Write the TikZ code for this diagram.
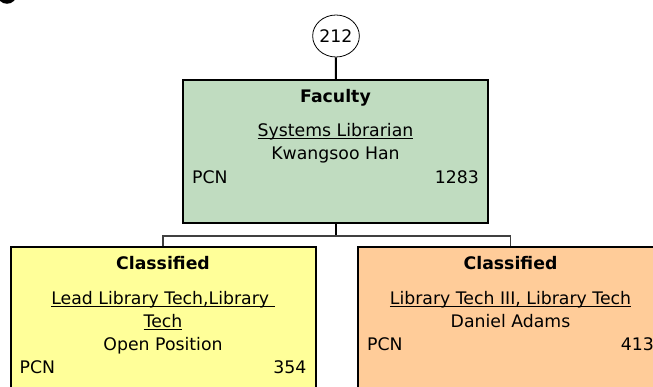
\documentclass[tikz,border=0pt]{standalone}
\usepackage{fontspec}
\setmainfont{DejaVu Sans}
\usepackage{xcolor}
\usetikzlibrary{positioning,shapes.geometric}
\definecolor{facgreen}{RGB}{192,220,192}
\definecolor{clyellow}{RGB}{255,255,153}
\definecolor{clorange}{RGB}{255,204,153}
\newcommand{\posttitle}[1]{\setbox0\hbox{#1}\rlap{\rule[-3pt]{\wd0}{1.1pt}}\box0}

\begin{document}
\begin{tikzpicture}[x=1pt,y=1pt,every node/.style={font=\fontsize{17.3}{21}\selectfont,inner sep=0pt},
  posbox/.style={draw,line width=2pt,minimum width=305pt,minimum height=143pt},
  ttl/.style={anchor=base,font=\fontsize{17.3}{21}\selectfont\bfseries},
  ln/.style={anchor=base},
  tie/.style={line width=2pt},
  branch/.style={line width=1.2pt,draw=black!75}]
\useasboundingbox (0,0) rectangle (653,386);
\clip (0,0) rectangle (653,386);
% cut-off mark in the corner
\draw[line width=3.5pt] (7,392) ellipse (8 and 8);
% top position
\node[draw,ellipse,line width=0.8pt,minimum width=38pt,minimum height=42pt] (num) at (336,350) {212};
\node[posbox,fill=facgreen] (fac) at (335.5,234.5) {};
\node[ttl] (facT) at ([yshift=-23.3pt]fac.north) {Faculty};
\node[ln] (facJ) at ([yshift=-57.5pt]fac.north) {\posttitle{Systems Librarian}};
\node[ln] (facN) at ([yshift=-81pt]fac.north) {Kwangsoo Han};
\node[ln,anchor=base west] (facP) at ([xshift=10pt,yshift=-104.5pt]fac.north west) {PCN};
\node[ln,anchor=base east] (facV) at ([xshift=-10pt,yshift=-104.5pt]fac.north east) {1283};
% classified positions
\node[posbox,fill=clyellow] (lead) at (163,67.5) {};
\node[ttl] (leadT) at ([yshift=-23pt]lead.north) {Classified};
\node[ln] (leadJ) at ([yshift=-58pt]lead.north) {\posttitle{Lead Library Tech,Library\ }};
\node[ln] (leadJb) at ([yshift=-81pt]lead.north) {\posttitle{Tech}};
\node[ln] (leadN) at ([yshift=-104pt]lead.north) {Open Position};
\node[ln,anchor=base west] (leadP) at ([xshift=10pt,yshift=-127pt]lead.north west) {PCN};
\node[ln,anchor=base east] (leadV) at ([xshift=-10pt,yshift=-127pt]lead.north east) {354};
\node[posbox,fill=clorange] (tech) at (510.5,67.5) {};
\node[ttl] (techT) at ([yshift=-23pt]tech.north) {Classified};
\node[ln] (techJ) at ([yshift=-58pt]tech.north) {\posttitle{Library Tech III, Library Tech}};
\node[ln] (techN) at ([yshift=-81pt]tech.north) {Daniel Adams};
\node[ln,anchor=base west] (techP) at ([xshift=10pt,yshift=-104pt]tech.north west) {PCN};
\node[ln,anchor=base east] (techV) at ([xshift=-10pt,yshift=-104pt]tech.north east) {413};
% lines
\draw[tie] (num) -- (fac);
\draw[tie] (fac.south) -- ++(0,-12) coordinate (split);
\draw[branch] (lead.north) |- (split) -| (tech.north);
\end{tikzpicture}
\end{document}
